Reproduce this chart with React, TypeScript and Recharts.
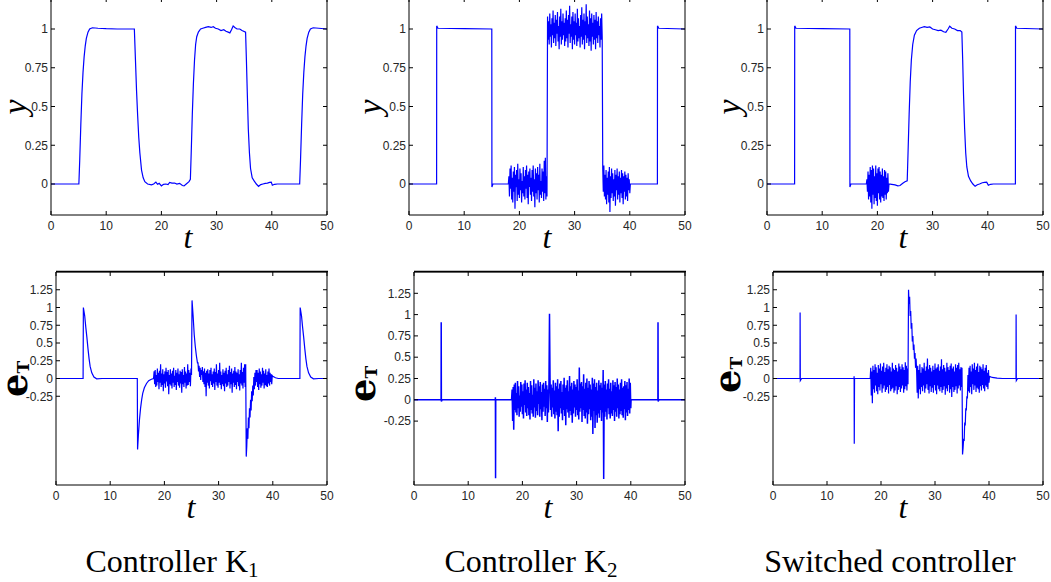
import React from 'react';
import { LineChart, Line, XAxis, YAxis } from 'recharts';

type Pt = [number, number];

const X_TICKS = [0, 10, 20, 30, 40, 50];
const Y_TICKS_OUT = [0, 0.25, 0.5, 0.75, 1];
const Y_TICKS_ERR = [-0.25, 0, 0.25, 0.5, 0.75, 1, 1.25];

// ---- Controller K1, output y ----
const k1Y: Pt[] = [
  [0, 0], [5.05, 0], [5.2, 0.15], [5.4, 0.38], [5.6, 0.58], [5.8, 0.72], [6.0, 0.82], [6.2, 0.89], [6.4, 0.94],
  [6.7, 0.98], [7.0, 1.0], [7.5, 1.008], [8.5, 1.005], [10, 1.002], [12, 1.0], [15.1, 1.0], [15.3, 0.8],
  [15.5, 0.6], [15.7, 0.44], [15.9, 0.3], [16.1, 0.2], [16.4, 0.09], [16.7, 0.04], [17.0, 0.015], [17.5, 0.0],
  [18.2, -0.005], [18.6, 0.0], [19.0, 0.012], [19.3, -0.002], [19.6, 0.004], [20.0, -0.012], [20.4, -0.002],
  [20.8, 0.0], [21.2, -0.004], [21.5, 0.01], [21.9, 0.006], [22.4, 0.006], [22.8, 0.0], [23.3, 0.004],
  [23.8, -0.01], [24.1, -0.012], [24.5, 0.0], [25.0, 0.015], [25.25, 0.03], [25.4, 0.2], [25.6, 0.45],
  [25.8, 0.65], [26.0, 0.8], [26.2, 0.9], [26.4, 0.95], [26.7, 0.98], [27.1, 1.0], [27.5, 1.005], [28.0, 1.01],
  [28.5, 1.015], [29.0, 1.01], [29.4, 1.015], [29.8, 1.005], [30.3, 1.0], [30.8, 0.99], [31.3, 0.995],
  [31.7, 0.985], [32.1, 0.98], [32.4, 0.975], [32.7, 0.995], [33.0, 1.02], [33.3, 1.01], [33.7, 1.0],
  [34.2, 1.0], [34.6, 0.99], [35.25, 0.98], [35.4, 0.8], [35.55, 0.6], [35.75, 0.35], [35.95, 0.2],
  [36.15, 0.1], [36.45, 0.04], [36.8, 0.02], [37.2, 0.0], [37.6, -0.015], [38.0, -0.004], [38.4, 0.0],
  [38.8, 0.004], [39.2, 0.006], [39.6, 0.01], [39.9, 0.012], [40.1, -0.008], [40.5, -0.002], [41, 0],
  [45.05, 0], [45.2, 0.15], [45.4, 0.38], [45.6, 0.58], [45.8, 0.72], [46.0, 0.82], [46.2, 0.89], [46.4, 0.94],
  [46.7, 0.98], [47.0, 1.0], [47.5, 1.008], [48.5, 1.005], [50, 1.0],
];

// ---- Controller K2, output y ----
const k2YStart: Pt[] = [[0, 0], [5, 0], [5.02, 1.02], [5.25, 1.005], [10, 1.002], [15, 1.0], [15.02, -0.02], [15.2, 0], [18, 0]];
const k2YNoiseLow1 = [
  0.05, -0.08, 0.1, -0.03, 0.12, -0.1, 0.04, -0.12, 0.08, -0.05,
  0.11, -0.16, 0.06, -0.02, 0.09, -0.11, 0.13, -0.07, 0.03, -0.09,
  0.1, -0.04, 0.07, -0.12, 0.02, -0.06, 0.11, -0.08, 0.05, -0.1,
  0.09, -0.03, 0.12, -0.09, 0.06, -0.13, 0.08, -0.02, 0.1, -0.07,
  0.04, -0.11, 0.09, -0.05, 0.12, -0.08, 0.03, -0.15, 0.1, -0.06,
  0.07, -0.1, 0.11, -0.04, 0.06, -0.12, 0.13, -0.07, 0.02, -0.09,
  0.1, -0.05, 0.08, -0.11, 0.15, -0.06, 0.17, -0.1, 0.05, -0.08,
];
const k2YNoiseHigh = [
  1.08, 0.93, 1.05, 0.9, 1.1, 0.95, 1.03, 0.88, 1.07, 0.96,
  1.12, 0.91, 1.04, 0.94, 1.09, 0.89, 1.06, 0.97, 1.11, 0.92,
  1.02, 0.87, 1.08, 0.95, 1.13, 0.9, 1.05, 0.93, 1.1, 0.96,
  1.04, 0.89, 1.07, 0.92, 1.12, 0.94, 1.06, 0.88, 1.09, 0.97,
  1.15, 0.91, 1.03, 0.95, 1.08, 0.87, 1.11, 0.93, 1.05, 0.9,
  1.1, 0.96, 1.04, 0.89, 1.13, 0.92, 1.07, 0.94, 1.02, 0.88,
  1.09, 0.95, 1.14, 0.9, 1.06, 0.93, 1.1, 0.87, 1.05, 0.96,
  1.16, 0.91, 1.08, 0.94, 1.03, 0.89, 1.12, 0.92, 1.07, 0.86,
  1.1, 0.95, 1.04, 0.9, 1.09, 0.93, 1.06, 0.87, 1.11, 0.94,
  1.05, 0.91, 1.08, 0.96, 1.02, 0.88, 1.07, 0.93, 1.1, 0.95,
];
const k2YNoiseLow2 = [
  0.1, -0.05, 0.12, -0.08, 0.06, -0.1, 0.09, -0.13, 0.04, -0.07,
  0.08, -0.12, 0.11, -0.18, 0.05, -0.09, 0.1, -0.06, 0.07, -0.11,
  0.03, -0.08, 0.09, -0.14, 0.06, -0.04, 0.1, -0.1, 0.05, -0.07,
  0.08, -0.12, 0.04, -0.06, 0.09, -0.09, 0.07, -0.13, 0.05, -0.05,
  0.08, -0.1, 0.06, -0.08, 0.04, -0.11, 0.07, -0.04, 0.03, -0.06,
];
const k2YEnd: Pt[] = [[40.1, 0], [45, 0], [45.02, 1.02], [45.25, 1.005], [50, 1.0]];

// ---- Switched controller, output y ----
const swYStart: Pt[] = [[0, 0], [5, 0], [5.02, 1.02], [5.25, 1.005], [10, 1.002], [15, 1.0], [15.02, -0.02], [15.2, 0], [18, 0]];
const swYNoise = [
  0.03, -0.05, 0.08, -0.1, 0.06, -0.08, 0.11, -0.12, 0.09, -0.16,
  0.12, -0.07, 0.1, -0.13, 0.05, -0.09, 0.12, -0.11, 0.07, -0.14,
  0.1, -0.06, 0.11, -0.1, 0.08, -0.12, 0.06, -0.08, 0.1, -0.09,
  0.05, -0.11, 0.09, -0.07, 0.08, -0.1, 0.04, -0.06, 0.07, -0.05,
];
const swYEnd: Pt[] = [
  [22.1, 0.0], [22.6, -0.002], [23.2, -0.006], [23.7, -0.012], [24.1, -0.01], [24.6, 0.005], [25.0, 0.015],
  [25.4, 0.02], [25.55, 0.2], [25.75, 0.45], [25.95, 0.66], [26.15, 0.8], [26.4, 0.9], [26.7, 0.96],
  [27.1, 0.99], [27.6, 1.005], [28.0, 1.01], [28.5, 1.015], [29.0, 1.01], [29.5, 1.013], [30.0, 1.0],
  [30.5, 0.995], [31.0, 0.99], [31.5, 0.992], [32.0, 0.982], [32.4, 0.978], [32.8, 1.0], [33.1, 1.018],
  [33.5, 1.005], [34.0, 1.0], [34.5, 0.99], [35.0, 0.99], [35.3, 0.98], [35.45, 0.8], [35.6, 0.58],
  [35.8, 0.36], [36.0, 0.2], [36.2, 0.11], [36.5, 0.05], [36.9, 0.02], [37.3, 0.0], [37.7, -0.015],
  [38.1, -0.005], [38.5, 0.0], [39.0, 0.008], [39.4, 0.01], [39.8, 0.012], [40.1, -0.008], [40.5, -0.002],
  [41, 0], [45, 0], [45.02, 1.02], [45.25, 1.005], [50, 1.0],
];

// ---- Controller K1, error e_T ----
const k1EStart: Pt[] = [
  [0, 0], [5, 0], [5.05, 1.0], [5.3, 0.88], [5.5, 0.72], [5.7, 0.58], [5.9, 0.42], [6.1, 0.28], [6.3, 0.17],
  [6.6, 0.08], [7.0, 0.02], [7.5, -0.005], [8.5, 0], [15, 0], [15.05, -1.0], [15.2, -0.8], [15.4, -0.58],
  [15.6, -0.42], [15.8, -0.3], [16.0, -0.21], [16.3, -0.13], [16.7, -0.07], [17.1, -0.03], [17.6, -0.01], [18, 0],
];
const k1ENoise1 = [
  0.1, -0.08, 0.12, -0.12, 0.05, -0.1, 0.14, -0.05, 0.08, -0.15,
  0.11, -0.06, 0.2, -0.12, 0.07, -0.09, 0.13, -0.18, 0.06, -0.07,
  0.1, -0.13, 0.15, -0.04, 0.09, -0.11, 0.12, -0.22, 0.05, -0.08,
  0.13, -0.1, 0.07, -0.14, 0.11, -0.06, 0.15, -0.12, 0.04, -0.09,
  0.12, -0.16, 0.08, -0.05, 0.14, -0.1, 0.06, -0.13, 0.11, -0.07,
  0.09, -0.2, 0.13, -0.08, 0.05, -0.12, 0.16, -0.06, 0.1, -0.14,
  0.07, -0.1, 0.2, -0.09, 0.12, -0.05, 0.08, -0.11, 0.14, 0.05,
];
const k1ESpike: Pt[] = [[25.1, 1.1], [25.3, 0.88], [25.5, 0.62], [25.7, 0.45], [25.9, 0.32], [26.1, 0.22]];
const k1ENoise2 = [
  0.22, 0.1, 0.18, 0.02, 0.15, -0.02, 0.12, 0.05, 0.16, -0.05,
  0.1, -0.08, 0.14, -0.12, 0.08, -0.25, 0.11, -0.06, 0.13, -0.1,
  0.07, -0.14, 0.12, -0.04, 0.15, -0.09, 0.06, -0.12, 0.1, -0.07,
  0.14, -0.16, 0.09, -0.05, 0.2, -0.1, 0.07, -0.13, 0.12, -0.06,
  0.22, -0.09, 0.1, -0.15, 0.05, -0.08, 0.13, -0.11, 0.08, -0.18,
  0.11, -0.07, 0.15, -0.12, 0.06, -0.1, 0.12, -0.05, 0.18, -0.14,
  0.09, -0.08, 0.14, -0.2, 0.07, -0.06, 0.11, -0.12, 0.16, -0.09,
  0.1, -0.15, 0.08, -0.05, 0.13, -0.11, 0.06, -0.17, 0.12, -0.07,
  0.22, -0.1, 0.09, -0.14, 0.15, -0.06, 0.2, -0.12,
];
const k1EDip: Pt[] = [[35.0, 0.2], [35.1, -1.1]];
const k1ERecover = [-0.95, -0.7, -0.85, -0.55, -0.7, -0.42, -0.55, -0.3, -0.45, -0.18, -0.32, -0.1, -0.24, 0.02, -0.15, 0.08, -0.1, 0.12];
const k1ENoise3 = [
  -0.05, 0.12, -0.12, 0.08, -0.16, 0.14, -0.08, 0.1, -0.13, 0.06,
  -0.1, 0.15, -0.06, 0.11, -0.14, 0.07, -0.09, 0.13, -0.11, 0.05,
  -0.12, 0.1, -0.07, 0.14, -0.1, 0.08, -0.05, 0.06, -0.08, 0.04,
];
const k1EEnd: Pt[] = [
  [40.0, 0.03], [40.5, 0.01], [41, 0], [45, 0], [45.05, 1.0], [45.3, 0.88], [45.5, 0.72], [45.7, 0.58],
  [45.9, 0.42], [46.1, 0.28], [46.3, 0.17], [46.6, 0.08], [47.0, 0.02], [47.5, -0.005], [48.5, 0], [50, 0],
];

// ---- Controller K2, error e_T ----
const k2EStart: Pt[] = [[0, 0], [5, 0], [5.02, 0.91], [5.05, -0.02], [5.2, 0], [15, 0], [15.02, 0.03], [15.05, -0.92], [15.08, 0], [18, 0]];
const k2ENoise = [
  0.12, -0.25, 0.15, -0.35, 0.18, -0.12, 0.2, -0.15, 0.08, -0.18,
  0.22, -0.1, 0.16, -0.2, 0.05, -0.14, 0.21, -0.08, 0.18, -0.17,
  0.1, -0.22, 0.19, -0.06, 0.23, -0.15, 0.12, -0.19, 0.2, -0.1,
  0.15, -0.18, 0.08, -0.23, 0.22, -0.12, 0.17, -0.16, 0.06, -0.2,
  0.24, -0.09, 0.14, -0.21, 0.19, -0.13, 0.1, -0.18, 0.23, -0.05,
  0.16, -0.2, 0.21, -0.11, 0.09, -0.24, 0.18, -0.14, 0.2, -0.08,
  0.13, -0.19, 0.22, -0.1, 0.17, -0.26, 0.12, -0.15, 0.2, 1.01,
  0.25, -0.12, 0.18, -0.2, 0.14, -0.09, 0.23, -0.17, 0.11, -0.22,
  0.2, -0.14, 0.16, -0.18, 0.24, -0.37, 0.13, -0.2, 0.19, -0.1,
  0.22, -0.16, 0.09, -0.24, 0.18, -0.12, 0.26, -0.19, 0.14, -0.3,
  0.17, -0.11, 0.23, -0.15, 0.1, -0.21, 0.28, -0.13, 0.16, -0.18,
  0.2, -0.27, 0.12, -0.16, 0.22, -0.09, 0.18, -0.2, 0.15, -0.12,
  0.24, -0.18, 0.11, -0.23, 0.38, -0.14, 0.19, -0.1, 0.21, -0.26,
  0.16, -0.12, 0.3, -0.19, 0.13, -0.22, 0.2, -0.15, 0.25, -0.28,
  0.14, -0.17, 0.22, -0.11, 0.18, -0.24, 0.12, -0.2, 0.26, -0.4,
  0.19, -0.13, 0.24, -0.33, 0.15, -0.18, 0.2, -0.27, 0.11, -0.16,
  0.23, -0.21, 0.17, -0.12, 0.2, -0.25, 0.14, -0.15, 0.35, -0.93,
  0.18, -0.2, 0.22, -0.14, 0.12, -0.23, 0.19, -0.1, 0.24, -0.17,
  0.13, -0.22, 0.2, -0.16, 0.1, -0.19, 0.23, -0.12, 0.17, -0.25,
  0.21, -0.14, 0.15, -0.2, 0.25, -0.1, 0.18, -0.22, 0.12, -0.17,
  0.2, -0.13, 0.24, -0.18, 0.14, -0.21, 0.16, -0.11, 0.22, -0.24,
  0.17, -0.15, 0.21, -0.19, 0.13, -0.12, 0.25, -0.16, 0.2, -0.1,
];
const k2EEnd: Pt[] = [[40.05, 0], [45, 0], [45.02, 0.91], [45.05, -0.02], [45.2, 0], [50, 0]];

// ---- Switched controller, error e_T ----
const swEStart: Pt[] = [[0, 0], [5, 0], [5.02, 0.93], [5.06, -0.03], [5.3, 0], [15, 0], [15.02, 0.03], [15.05, -0.92], [15.1, 0], [18, 0]];
const swENoise1 = [
  0.15, -0.24, 0.1, -0.35, 0.18, -0.15, 0.12, -0.2, 0.2, -0.1,
  0.16, -0.18, 0.08, -0.22, 0.19, -0.12, 0.14, -0.17, 0.21, -0.08,
  0.11, -0.2, 0.17, -0.14, 0.22, -0.1, 0.09, -0.19, 0.15, -0.16,
  0.2, -0.12, 0.13, -0.21, 0.18, -0.09, 0.16, -0.18, 0.1, -0.15,
  0.22, -0.13, 0.14, -0.2, 0.12, -0.17, 0.19, -0.11, 0.15, -0.22,
  0.1, -0.16, 0.21, -0.12, 0.17, -0.19, 0.13, -0.14, 0.2, -0.1,
  0.16, -0.2, 0.12, -0.15, 0.23, -0.11, 0.18, -0.17, 0.14, -0.08,
];
const swEDecay = [1.25, 1.05, 1.15, 0.88, 0.95, 0.7, 0.78, 0.52, 0.6, 0.4, 0.48, 0.28, 0.36, 0.15, 0.28];
const swENoise2 = [
  0.1, -0.2, 0.18, -0.28, 0.12, -0.15, 0.2, -0.22, 0.08, -0.12,
  0.16, -0.18, 0.14, -0.1, 0.22, -0.2, 0.11, -0.14, 0.17, -0.08,
  0.28, -0.16, 0.13, -0.21, 0.19, -0.11, 0.15, -0.19, 0.1, -0.13,
  0.18, -0.2, 0.12, -0.09, 0.21, -0.17, 0.14, -0.22, 0.16, -0.1,
  0.2, -0.15, 0.11, -0.18, 0.17, -0.12, 0.27, -0.2, 0.13, -0.16,
  0.19, -0.11, 0.15, -0.23, 0.1, -0.14, 0.22, -0.18, 0.16, -0.09,
  0.12, -0.2, 0.18, -0.15, 0.21, -0.26, 0.14, -0.12, 0.17, -0.19,
  0.1, -0.16, 0.2, -0.11, 0.15, -0.21, 0.19, -0.14, 0.22, -0.1,
  0.13, -0.17, 0.16, -0.12,
];
const swEDip: Pt[] = [[35.0, 0.15], [35.1, -1.07]];
const swERecover = [-0.98, -0.85, -0.88, -0.62, -0.66, -0.42, -0.45, -0.25, -0.28];
const swENoise3 = [
  0.05, -0.18, 0.15, -0.2, 0.18, -0.12, 0.1, -0.22, 0.2, -0.08,
  0.14, -0.16, 0.22, -0.1, 0.12, -0.19, 0.17, -0.13, 0.21, -0.15,
  0.09, -0.2, 0.18, -0.11, 0.16, -0.17, 0.13, -0.09, 0.2, -0.14,
  0.11, -0.18, 0.15, -0.1, 0.19, -0.12, 0.08, -0.15, 0.12, -0.06,
];
const swEEnd: Pt[] = [[40.1, 0.03], [40.6, 0.015], [41.5, 0.005], [42.5, 0], [45, 0], [45.02, 0.9], [45.06, -0.03], [45.3, 0], [50, 0]];

// noise lists are sampled every 0.1 s from their start time
const sampled = (t0: number, vals: number[]): Pt[] =>
  vals.map((v, i) => [Math.round((t0 + i * 0.1) * 100) / 100, v] as Pt);
const rows = (...parts: Pt[][]) => parts.flat().map(([t, v]) => ({ t, v }));

const k1YData = rows(k1Y);
const k2YData = rows(k2YStart, sampled(18.1, k2YNoiseLow1), sampled(25.1, k2YNoiseHigh), sampled(35.1, k2YNoiseLow2), k2YEnd);
const swYData = rows(swYStart, sampled(18.1, swYNoise), swYEnd);
const k1EData = rows(k1EStart, sampled(18.1, k1ENoise1), k1ESpike, sampled(26.2, k1ENoise2), k1EDip,
  sampled(35.2, k1ERecover), sampled(37.0, k1ENoise3), k1EEnd);
const k2EData = rows(k2EStart, sampled(18.1, k2ENoise), k2EEnd);
const swEData = rows(swEStart, sampled(18.1, swENoise1), sampled(25.1, swEDecay), sampled(26.6, swENoise2), swEDip,
  sampled(35.2, swERecover), sampled(36.1, swENoise3), swEEnd);

const Y_AXIS_W = 45;
const X_AXIS_H = 30;
const RIGHT_PAD = 14;
const TOP_PAD = 8;
const TICK_STYLE = { fill: '#262626', fontSize: 12, fontFamily: '"Liberation Sans", Arial, sans-serif' };
const noLabel = () => <g />;

interface PanelProps {
  x: number;
  y: number;
  w: number;
  h: number;
  domain: [number, number];
  yTicks: number[];
  data: { t: number; v: number }[];
  lineWidth?: number;
}

function Panel({ x, y, w, h, domain, yTicks, data, lineWidth = 1.2 }: PanelProps) {
  return (
    <div style={{ position: 'absolute', left: x - Y_AXIS_W, top: y - 1 - TOP_PAD }}>
      <LineChart width={Y_AXIS_W + w + 1 + RIGHT_PAD} height={TOP_PAD + 1 + h + X_AXIS_H} data={data}
        margin={{ top: TOP_PAD, right: RIGHT_PAD, bottom: 0, left: 0 }}>
        <XAxis dataKey="t" type="number" domain={[0, 50]} ticks={X_TICKS} allowDataOverflow interval={0}
          height={X_AXIS_H} stroke="#000" tickSize={-4} tickMargin={10} tick={TICK_STYLE} />
        <XAxis xAxisId="top" dataKey="t" orientation="top" type="number" domain={[0, 50]} ticks={X_TICKS}
          allowDataOverflow interval={0} height={1} stroke="#000" tickSize={-4} tick={noLabel} />
        <YAxis type="number" domain={domain} ticks={yTicks} allowDataOverflow interval={0}
          width={Y_AXIS_W} stroke="#000" tickSize={-4} tickMargin={7} tick={TICK_STYLE} />
        <YAxis yAxisId="right" dataKey="v" orientation="right" type="number" domain={domain} ticks={yTicks}
          allowDataOverflow interval={0} width={1} stroke="#000" tickSize={-4} tick={noLabel} />
        <Line type="linear" dataKey="v" stroke="#0000ff" strokeWidth={lineWidth} dot={false} activeDot={false}
          isAnimationActive={false} />
      </LineChart>
    </div>
  );
}

const SERIF = '"Liberation Serif", "Times New Roman", serif';
const BOLD_SERIF = '"DejaVu Serif", "Liberation Serif", serif';

// plot boxes of the lower row: left edge and width; top edge drawn on top of everything
const LOWER_BOXES = [[56, 271], [414, 271], [773, 270]];

export default function App() {
  return (
    <div style={{ position: 'absolute', left: 0, top: 0, width: 1051, height: 582, background: '#fff', overflow: 'hidden' }}>
      <Panel x={51} y={-2} w={276} h={217} domain={[-0.2, 1.2]} yTicks={Y_TICKS_OUT} data={k1YData} />
      <Panel x={409} y={-2} w={276} h={217} domain={[-0.2, 1.2]} yTicks={Y_TICKS_OUT} data={k2YData} />
      <Panel x={767} y={-2} w={276} h={217} domain={[-0.2, 1.2]} yTicks={Y_TICKS_OUT} data={swYData} />
      <Panel x={56} y={272} w={271} h={213} domain={[-1.5, 1.5]} yTicks={Y_TICKS_ERR} data={k1EData} />
      <Panel x={414} y={272} w={271} h={213} domain={[-1, 1.5]} yTicks={Y_TICKS_ERR} data={k2EData} lineWidth={1.5} />
      <Panel x={773} y={272} w={270} h={213} domain={[-1.5, 1.5]} yTicks={Y_TICKS_ERR} data={swEData} />

      <svg width={1051} height={582} style={{ position: 'absolute', left: 0, top: 0, pointerEvents: 'none' }}>
        {LOWER_BOXES.map(([bx, bw], i) => (
          <line key={'top' + i} x1={bx} x2={bx + bw + 1} y1={271.5} y2={271.5} stroke="#000" strokeWidth={1.3} />
        ))}
        {[26, 381, 740].map((bx, i) => (
          <text key={'y' + i} transform={`translate(${bx},107) rotate(-90)`} textAnchor="middle"
            fontFamily={SERIF} fontStyle="italic" fontSize={34} fill="#000">y</text>
        ))}
        {[[188, 248], [547, 248], [903, 248], [191, 518], [548, 518], [903, 518]].map(([cx, by], i) => (
          <text key={'t' + i} x={cx} y={by} textAnchor="middle" fontFamily={SERIF} fontStyle="italic"
            fontSize={32} fill="#000">t</text>
        ))}
        {[[27, 379], [375, 384], [740, 375]].map(([bx, cy], i) => (
          <text key={'e' + i} transform={`translate(${bx},${cy}) rotate(-90)`} textAnchor="middle"
            fontFamily={BOLD_SERIF} fontWeight="bold" fontSize={37} fill="#000">
            e<tspan fontSize={17} dy={2}>T</tspan>
          </text>
        ))}
        <text x={172} y={572} textAnchor="middle" fontFamily={SERIF} fontSize={32} fill="#000">
          Controller K<tspan fontSize={21} dy={5}>1</tspan>
        </text>
        <text x={531} y={572} textAnchor="middle" fontFamily={SERIF} fontSize={32} fill="#000">
          Controller K<tspan fontSize={21} dy={5}>2</tspan>
        </text>
        <text x={890} y={572} textAnchor="middle" fontFamily={SERIF} fontSize={32} fill="#000">
          Switched controller
        </text>
      </svg>
    </div>
  );
}
